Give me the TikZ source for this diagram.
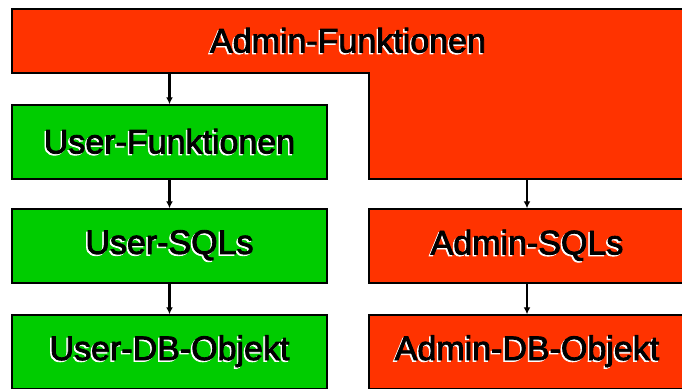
\documentclass[tikz,border=0pt]{standalone}
\usepackage{fontspec}
\setmainfont{Liberation Sans}
\newfontfamily\heavyfont[FakeBold=2.5]{Liberation Sans}
\usetikzlibrary{arrows.meta}
\definecolor{redbox}{RGB}{255,51,0}
\definecolor{greenbox}{RGB}{0,204,0}
\newcommand\shd[1]{\leavevmode\rlap{\kern-1.5pt\raisebox{-1.5pt}{\color{white}#1}}#1}
\tikzset{
  lbl/.style={font=\heavyfont\fontsize{34}{40}\selectfont, text=black, inner sep=0pt},
  gbox/.style={draw=black, line width=1.5pt, fill=greenbox, minimum width=315pt, minimum height=74pt, inner sep=0pt},
  rbox/.style={draw=black, line width=1.5pt, fill=redbox, minimum width=316pt, minimum height=74pt, inner sep=0pt},
  conn/.style={draw=black, line width=2.4pt, -{Latex[length=7pt,width=7pt]}},
}
\begin{document}
\begin{tikzpicture}[x=1pt,y=-1pt]
\useasboundingbox (0,0) rectangle (682,388);
\clip (0,0) rectangle (682,388);
\fill[white] (0,0) rectangle (682,388);
% Admin-Funktionen shape
\draw[line width=1.5pt, fill=redbox] (12,9) -- (690,9) -- (690,179) -- (369,179) -- (369,73) -- (12,73) -- cycle;
\node[lbl] (af) at (348,41) {\shd{Admin-Funktionen}};
\coordinate (afL) at (169.5,73);
\coordinate (afR) at (527,179);
% left column
\node[gbox] (uf) at (169.5,142) {};
\node[lbl] (ufT) at (uf) {\shd{User-Funktionen}};
\node[gbox] (us) at (169.5,246) {};
\node[lbl] (usT) at (us) {\shd{User-SQLs}};
\node[gbox] (ud) at (169.5,352) {};
\node[lbl] (udT) at (ud) {\shd{User-DB-Objekt}};
% right column
\node[rbox] (as) at (527,246) {};
\node[lbl] (asT) at (as) {\shd{Admin-SQLs}};
\node[rbox] (ad) at (527,352) {};
\node[lbl] (adT) at (ad) {\shd{Admin-DB-Objekt}};
% connectors
\draw[conn] (afL) -- (uf.north);
\draw[conn] (uf.south) -- (us.north);
\draw[conn] (us.south) -- (ud.north);
\draw[conn] (afR) -- (as.north);
\draw[conn] (as.south) -- (ad.north);
\end{tikzpicture}
\end{document}
